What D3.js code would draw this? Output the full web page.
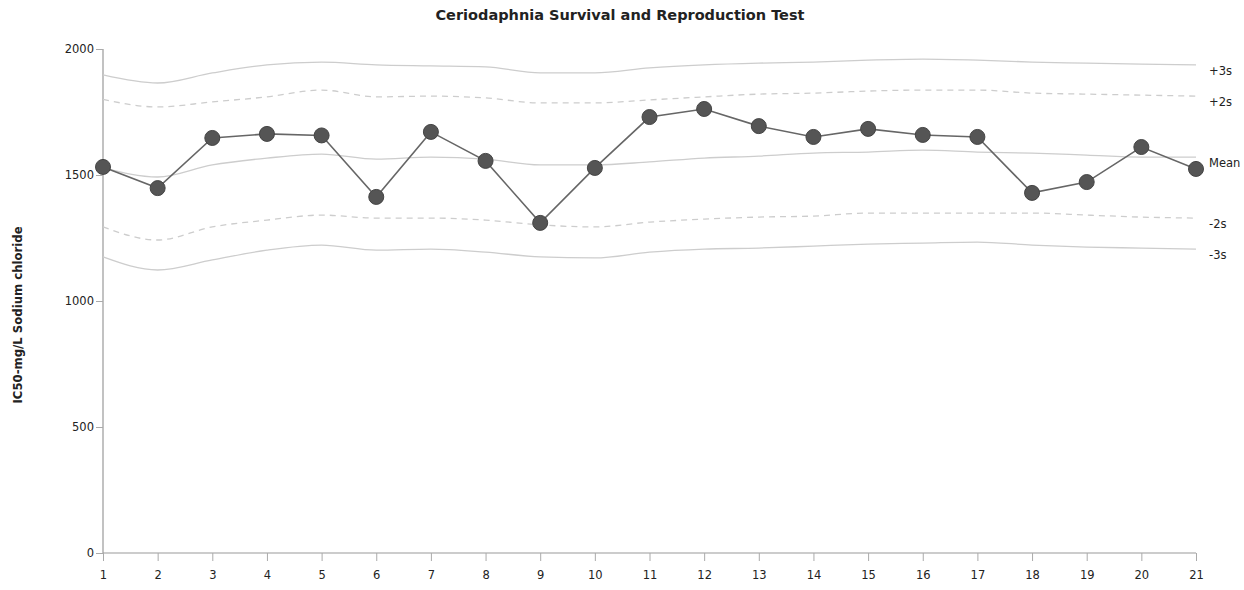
<!DOCTYPE html>
<html>
<head>
<meta charset="utf-8">
<script src="https://cdn.jsdelivr.net/npm/d3@7"></script>
<style>
  html, body { margin: 0; padding: 0; background: #fff; }
  svg { display: block; }
</style>
</head>
<body>
<svg id="chart" width="1244" height="590"></svg>
<script>
const tests = [1,2,3,4,5,6,7,8,9,10,11,12,13,14,15,16,17,18,19,20,21];
const values = [1532,1448,1647,1663,1657,1413,1671,1556,1310,1528,1730,1762,1694,1651,1683,1659,1651,1429,1472,1611,1524];
const meanLine = [1528,1492,1540,1567,1583,1563,1571,1563,1540,1540,1552,1567,1575,1587,1591,1599,1591,1587,1579,1571,1571];
const plus3s = [1897,1865,1905,1937,1948,1937,1933,1929,1905,1905,1925,1937,1944,1948,1956,1960,1956,1948,1944,1940,1937];
const plus2s = [1800,1770,1790,1810,1837,1810,1813,1806,1786,1786,1798,1810,1821,1825,1833,1837,1837,1825,1821,1817,1813];
const minus2s = [1294,1242,1294,1321,1341,1329,1329,1321,1302,1294,1313,1325,1333,1337,1349,1349,1349,1349,1341,1333,1329];
const minus3s = [1175,1123,1163,1202,1222,1202,1206,1194,1175,1171,1194,1206,1210,1218,1226,1230,1234,1222,1214,1210,1206];
const yTicks = [0,500,1000,1500,2000];
const limitNames = ["+3s","+2s","Mean","-2s","-3s"];
const title = "Ceriodaphnia Survival and Reproduction Test";
const yTitle = "IC50-mg/L Sodium chloride";

const svg = d3.select("#chart");
const margin = {left: 103, right: 48, top: 49, bottom: 37};
const W = 1244, H = 590;

const x = d3.scaleLinear().domain([1, 21]).range([margin.left, W - margin.right]);
const y = d3.scaleLinear().domain([0, 2000]).range([H - margin.bottom, margin.top]);

const font = "'DejaVu Sans', Verdana, sans-serif";

// title
svg.append("text")
  .attr("x", 620).attr("y", 20)
  .attr("text-anchor", "middle")
  .attr("font-family", font)
  .attr("font-weight", "bold")
  .attr("font-size", 14.5)
  .attr("fill", "#222")
  .text(title);

// y axis title
svg.append("text")
  .attr("transform", `translate(22,315) rotate(-90)`)
  .attr("text-anchor", "middle")
  .attr("font-family", font)
  .attr("font-weight", "bold")
  .attr("font-size", 11.7)
  .attr("fill", "#222")
  .text(yTitle);

// axes
const yAxis = d3.axisLeft(y).tickValues(yTicks).tickSize(7).tickPadding(2).tickFormat(d3.format("d"));
const gy = svg.append("g").attr("transform", `translate(${margin.left},0)`).call(yAxis);
const xAxis = d3.axisBottom(x).tickValues(tests).tickSize(8).tickPadding(10).tickFormat(d3.format("d"));
const gx = svg.append("g").attr("transform", `translate(0,${H - margin.bottom})`).call(xAxis);
[gx, gy].forEach(g => {
  g.select(".domain").attr("stroke", "#999").attr("stroke-width", 1.2);
  g.selectAll(".tick line").attr("stroke", "#aaa");
  g.selectAll(".tick text").attr("font-family", font).attr("font-size", 11.5).attr("fill", "#222");
});
gy.select(".domain").attr("d", `M0,${y(2000)}V${y(0)}`);
gx.select(".domain").attr("d", `M${x(1)},0H${x(21)}`);

// limit lines
const limits = [
  {name: limitNames[0], vals: plus3s, dash: null},
  {name: limitNames[1], vals: plus2s, dash: "6,5"},
  {name: limitNames[2], vals: meanLine, dash: null},
  {name: limitNames[3], vals: minus2s, dash: "6,5"},
  {name: limitNames[4], vals: minus3s, dash: null}
];
const limLine = d3.line()
  .x((d, i) => x(tests[i]))
  .y(d => y(d))
  .curve(d3.curveMonotoneX);

limits.forEach(l => {
  svg.append("path")
    .attr("d", limLine(l.vals))
    .attr("fill", "none")
    .attr("stroke", "#cdcdcd")
    .attr("stroke-width", 1.3)
    .attr("stroke-dasharray", l.dash);
  svg.append("text")
    .attr("x", x(21) + 13)
    .attr("y", y(l.vals[l.vals.length - 1]) + 10)
    .attr("font-family", font)
    .attr("font-size", 11.5)
    .attr("fill", "#222")
    .text(l.name);
});

// data line
const dataLine = d3.line().x((d, i) => x(tests[i])).y(d => y(d));
svg.append("path")
  .attr("d", dataLine(values))
  .attr("fill", "none")
  .attr("stroke", "#666")
  .attr("stroke-width", 1.6);

svg.selectAll("circle.pt")
  .data(values)
  .enter().append("circle")
  .attr("class", "pt")
  .attr("cx", (d, i) => x(tests[i]))
  .attr("cy", d => y(d))
  .attr("r", 7.5)
  .attr("fill", "#555")
  .attr("stroke", "#444")
  .attr("stroke-width", 1);
</script>
</body>
</html>
